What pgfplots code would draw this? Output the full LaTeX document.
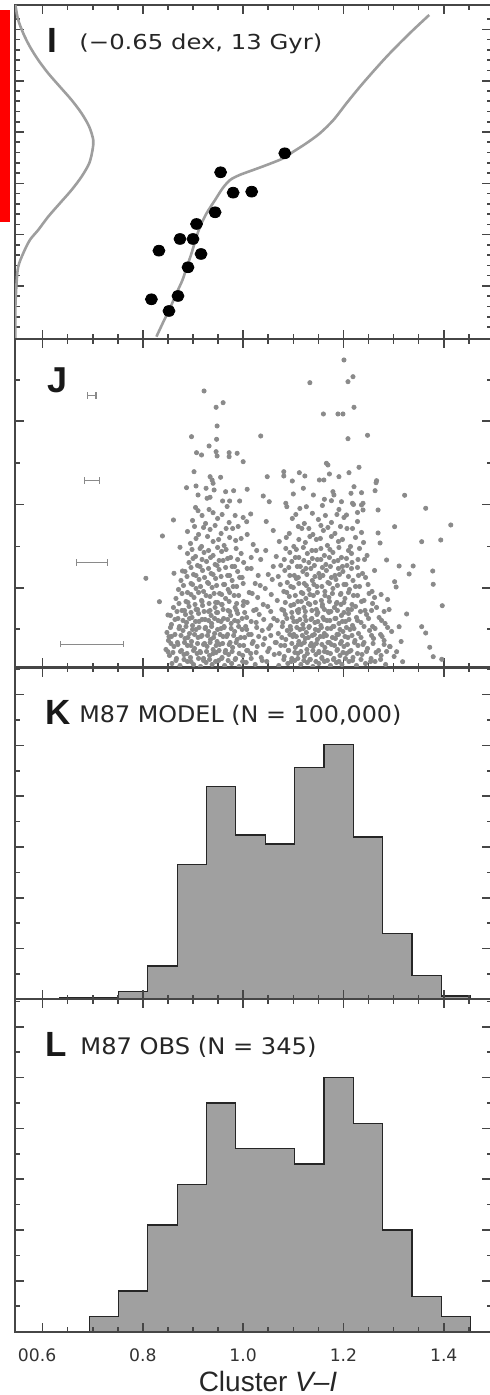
\documentclass[border=0pt]{standalone}
\usepackage{fontspec}
\setmainfont{DejaVu Sans}
\newfontfamily\libsans{Liberation Sans}
\usepackage{graphicx}
\usepackage{pgfplots}
\pgfplotsset{compat=1.18}
\definecolor{curvegray}{RGB}{158,158,158}
\definecolor{histgray}{RGB}{160,160,160}
\definecolor{dotgray}{RGB}{138,138,138}
\definecolor{axisgray}{RGB}{70,70,70}
\pgfplotsset{panel/.style={x=250.737pt, xmin=0.545, xmax=1.495,
  anchor=south west, axis line style={axisgray, line width=1pt}, tick align=inside, tick pos=both,
  xtick={0.6,0.8,1.0,1.2,1.4},
  minor xtick={0.65,0.7,0.75,0.85,0.9,0.95,1.05,1.1,1.15,1.25,1.3,1.35,1.45},
  xticklabels={}, yticklabels={}, major tick length=4.5pt, minor tick length=2.3pt,
  every tick/.style={axisgray, line width=0.8pt}}}
\begin{document}
\begin{tikzpicture}
\useasboundingbox (0,0) rectangle (245pt,697.5pt);
\fill[red] (0,586.5pt) rectangle (5pt,692.5pt);

% ---------- Panel I ----------
\begin{axis}[panel, at={(7.5pt,528pt)}, y=0.5pt, ymin=0, ymax=334,
  ytick={53,104.3,155.6,206.9,258.2,309.5},
  minor ytick={12,22.2,32.5,42.7,63.3,73.5,83.8,94.1,114.6,124.8,135.1,145.4,165.9,176.1,186.4,196.7,217.2,227.4,237.7,248,268.5,278.7,289,299.3,319.8}]
\addplot[curvegray, line width=1.3pt, smooth] coordinates {
(0.827,2.3)(0.841,17.3)(0.854,30.7)(0.867,45.7)(0.879,59)(0.888,72.3)(0.897,85.7)(0.905,99)
(0.914,112.3)(0.927,125.7)(0.944,139)(0.959,150.7)(0.974,159)(0.993,164)(1.020,169)(1.047,174)
(1.080,180.7)(1.100,187.3)(1.126,195.7)(1.153,205.7)(1.180,219)(1.206,235.7)(1.233,252.3)
(1.259,267.3)(1.286,282.3)(1.312,295.7)(1.339,309)(1.371,324)};
\addplot[curvegray, line width=1.3pt, smooth] coordinates {
(0.5455,334)(0.5468,330.7)(0.5514,319)(0.5614,305.7)(0.5747,292.3)(0.5913,279)(0.6112,265.7)
(0.6345,252.3)(0.6578,239)(0.6777,225.7)(0.6930,212.3)(0.7010,199)(0.6996,189)(0.6930,175.7)
(0.6777,162.3)(0.6578,149)(0.6345,135.7)(0.6112,122.3)(0.5913,109)(0.5747,99)(0.5614,85.7)
(0.5514,72.3)(0.5481,55.7)(0.5458,32.3)(0.5455,5.7)(0.5455,0)};
\addplot[only marks, color=black, mark=*, mark size=3pt, mark options={yscale=0.9}] coordinates {
(1.083,185.7)(0.955,166.7)(0.980,146.3)(1.017,147.3)(0.944,126.7)(0.907,115)(0.874,100)
(0.900,100)(0.832,88.3)(0.916,85)(0.890,71.7)(0.817,39.7)(0.870,43)(0.852,28)};
\end{axis}

% ---------- Panel J ----------
\begin{axis}[panel, at={(7.5pt,363.75pt)}, y=0.5pt, ymin=0, ymax=328.5,
  ytick={79.2,162.9,246.6}, minor ytick={38.2,120.8,204.5,287.5}]
\addplot[draw=none, mark=none, forget plot, error bars/.cd, x dir=both, x explicit,
  error bar style={draw=dotgray, solid, line width=0.6pt},
  error mark options={rotate=90, mark size=1.6pt, draw=dotgray, solid, line width=0.6pt}]
  coordinates {(0.6983,271.8) +- (0.0083,0) (0.6983,186.8) +- (0.015,0)
               (0.6983,104.8) +- (0.0306,0) (0.6983,23.2) +- (0.0625,0)};
\addplot[only marks, color=dotgray, mark=*, mark size=1.05pt] coordinates {
(1.201,307.5)(1.133,284.8)(1.209,285.8)(1.219,290.8)(0.922,276.5)(0.946,260.2)(0.960,264.8)
(1.160,253.5)(1.189,253.5)(1.199,253.5)(1.221,260.2)(0.948,241.5)(0.897,230.8)(0.947,228.2)
(1.035,231.5)(1.209,228.8)(1.248,232.2)(0.932,221.5)
(0.907,214.8)(0.917,212.5)(0.946,215.8)(0.948,211.5)(0.972,214.8)(0.972,210.8)(0.988,214.2)(1.000,205.8)
(1.166,204.2)(1.169,202.5)(1.231,200.2)
(0.902,195.8)(0.934,190.8)(0.938,187.5)(0.940,184.2)(0.955,190.2)
(1.048,190.8)(1.081,195.8)(1.081,191.5)(1.098,186.5)(1.112,194.8)(1.123,191.5)
(1.152,187.5)(1.161,187.5)(1.172,193.5)(1.191,190.8)(1.211,194.8)(1.266,186.8)(1.265,184.8)
(0.887,179.8)(0.906,181.5)(0.926,179.2)(0.942,177.5)(0.965,175.8)(0.981,176.8)(1.008,178.2)
(1.120,179.2)(1.221,180.8)(1.179,175.8)(1.181,172.5)(1.215,174.2)(1.236,174.8)(1.263,176.8)(1.322,172.2)
(0.910,172.5)(0.928,169.2)(0.934,170.2)(0.959,166.5)(0.973,166.5)(0.993,166.5)(1.040,171.5)(1.052,165.8)
(1.140,172.5)(1.162,168.2)(1.176,166.8)(1.196,165.8)(1.218,164.2)(1.239,164.2)
(1.085,164.2)(1.100,173.5)(1.236,162.5)(1.239,157.5)(1.269,157.5)(1.206,152.5)(1.138,154.2)
(1.126,160.8)(1.087,160.8)(0.861,147.5)(0.910,156.8)(0.940,154.8)(1.015,153.5)(1.007,145.8)
(0.839,131.5)(0.874,120.2)
(0.806,89.2)(0.833,65.8)(0.862,94.2)(0.879,96.5)(0.850,52.5)(0.852,30.8)(0.850,15.8)
(1.414,142.5)(1.302,140.8)(1.364,159.2)(1.356,125.8)(1.394,127.5)(1.273,124.5)(1.269,134.5)
(1.286,107.5)(1.311,101.5)(1.339,101.5)(1.331,93.5)(1.378,96.5)(1.379,83.2)(1.302,85.8)
(1.305,80.5)(1.397,61.8)(1.326,53.5)(1.311,40.8)(1.356,40.8)(1.364,34.5)(1.372,20.2)
(1.379,10.8)(1.396,8.2)(1.293,20.8)(1.306,15.8)(1.318,5.8)
(0.858,4)(0.874,2)(0.889,6)(0.901,3)(0.915,1)(0.926,5)(0.938,3)(0.951,7)(0.963,2)(0.977,4)
(0.992,1)(1.006,5)(1.024,3)(1.047,6)(1.071,2)(1.089,4)(1.103,7)(1.115,3)(1.128,5)(1.139,1)
(1.151,4)(1.162,6)(1.174,2)(1.186,5)(1.197,3)(1.211,6)(1.226,2)(1.244,4)(1.263,6)(1.284,3)
(0.853,12)(0.867,9)(0.882,13)(0.895,10)(0.908,14)(0.921,9)(0.933,12)(0.946,15)(0.958,10)
(0.971,13)(0.985,9)(0.999,12)(1.015,14)(1.036,10)(1.062,13)(1.082,11)(1.097,9)(1.109,14)
(1.122,11)(1.133,8)(1.145,13)(1.157,10)(1.168,15)(1.181,9)(1.193,12)(1.206,14)(1.219,10)
(1.237,13)(1.255,9)(1.275,12)(1.301,11)
(0.846,18)(0.862,21)(0.877,17)(0.889,22)(0.903,19)(0.914,16)(0.928,21)(0.940,18)(0.953,23)
(0.965,17)(0.979,20)(0.993,22)(1.009,17)(1.028,21)(1.052,19)(1.075,22)(1.091,17)(1.104,20)
(1.116,23)(1.127,18)(1.140,21)(1.151,16)(1.163,20)(1.176,23)(1.188,18)(1.201,21)(1.215,17)
(1.229,22)(1.248,19)(1.270,17)(1.292,21)
(0.851,27)(0.869,25)(0.884,29)(0.897,26)(0.910,30)(0.923,24)(0.935,28)(0.948,26)(0.960,31)
(0.974,25)(0.988,28)(1.003,30)(1.020,26)(1.043,29)(1.066,25)(1.085,28)(1.099,31)(1.111,26)
(1.124,29)(1.136,24)(1.148,28)(1.160,31)(1.172,25)(1.184,29)(1.196,26)(1.209,30)(1.223,27)
(1.241,25)(1.260,29)(1.281,27)(1.315,26)
(0.848,35)(0.864,33)(0.880,37)(0.893,34)(0.906,38)(0.918,32)(0.931,36)(0.943,34)(0.956,39)
(0.969,33)(0.983,36)(0.998,38)(1.016,33)(1.038,37)(1.070,34)(1.088,37)(1.101,33)(1.113,38)
(1.126,35)(1.138,32)(1.150,37)(1.162,34)(1.175,39)(1.187,33)(1.199,36)(1.213,38)(1.230,34)
(1.252,37)(1.274,33)(1.296,36)
(0.857,43)(0.873,41)(0.887,45)(0.899,42)(0.912,46)(0.925,40)(0.937,44)(0.950,47)(0.962,41)
(0.976,44)(0.990,46)(1.005,41)(1.026,45)(1.055,42)(1.079,45)(1.094,41)(1.107,46)(1.119,43)
(1.131,40)(1.143,45)(1.155,42)(1.167,47)(1.179,41)(1.191,44)(1.204,46)(1.218,42)(1.235,45)
(1.258,41)(1.283,44)
(0.855,52)(0.870,49)(0.885,53)(0.898,50)(0.911,54)(0.924,48)(0.936,52)(0.949,55)(0.961,49)
(0.975,52)(0.989,54)(1.007,50)(1.032,53)(1.061,49)(1.084,53)(1.098,50)(1.110,55)(1.123,51)
(1.135,48)(1.147,53)(1.159,50)(1.171,55)(1.183,49)(1.196,52)(1.210,54)(1.226,50)(1.246,53)
(1.271,50)
(0.861,60)(0.878,57)(0.892,61)(0.906,58)(0.919,62)(0.931,56)(0.944,60)(0.957,63)(0.970,57)
(0.984,60)(1.000,62)(1.021,57)(1.049,61)(1.077,58)(1.095,62)(1.108,57)(1.121,60)(1.133,63)
(1.146,58)(1.158,61)(1.170,56)(1.182,60)(1.195,63)(1.209,58)(1.224,61)(1.243,57)(1.266,60)
(1.291,58)
(0.866,69)(0.886,66)(0.902,70)(0.917,67)(0.934,71)(0.949,65)(0.965,69)(0.982,72)(1.001,66)
(1.029,70)(1.068,67)(1.092,71)(1.109,66)(1.125,69)(1.140,72)(1.156,67)(1.171,70)(1.187,65)
(1.203,69)(1.220,72)(1.241,67)(1.262,70)(1.288,68)
(0.871,78)(0.889,75)(0.906,79)(0.921,76)(0.938,80)(0.953,74)(0.970,78)(0.987,81)(1.012,75)
(1.044,79)(1.081,76)(1.100,80)(1.116,75)(1.131,78)(1.147,81)(1.163,76)(1.179,79)(1.195,74)
(1.212,78)(1.232,81)(1.257,76)
(0.876,87)(0.896,84)(0.912,88)(0.929,85)(0.945,89)(0.961,83)(0.978,87)(0.998,90)(1.024,84)
(1.058,88)(1.088,85)(1.106,89)(1.122,84)(1.138,87)(1.153,90)(1.169,85)(1.185,88)(1.201,83)
(1.219,87)(1.244,90)
(0.884,96)(0.901,93)(0.919,97)(0.936,94)(0.952,98)(0.969,92)(0.989,96)(1.016,99)(1.050,93)
(1.083,97)(1.102,92)(1.119,96)(1.135,99)(1.151,94)(1.166,97)(1.183,92)(1.199,96)(1.216,99)
(1.238,94)(1.262,97)
(0.892,105)(0.909,102)(0.927,106)(0.944,103)(0.960,107)(0.978,101)(1.001,105)(1.035,108)
(1.075,102)(1.097,106)(1.114,101)(1.131,105)(1.148,108)(1.165,103)(1.181,106)(1.198,101)
(1.217,105)(1.242,108)
(0.889,114)(0.905,111)(0.922,115)(0.940,112)(0.957,116)(0.975,110)(0.996,114)(1.027,117)
(1.066,111)(1.093,115)(1.111,110)(1.128,114)(1.145,117)(1.162,112)(1.179,115)(1.196,110)
(1.216,114)(1.247,112)
(0.895,124)(0.917,121)(0.940,126)(0.962,122)(0.985,127)(1.020,123)(1.072,126)(1.101,121)
(1.124,125)(1.146,128)(1.168,122)(1.190,126)(1.214,121)(1.240,125)
(0.889,136)(0.911,133)(0.934,138)(0.956,134)(0.979,139)(1.008,133)(1.060,137)(1.092,134)
(1.117,139)(1.139,133)(1.160,137)(1.183,134)(1.207,139)(1.236,135)
(0.899,147)(0.925,144)(0.949,149)(0.972,145)(1.000,150)(1.046,146)(1.098,149)(1.122,144)
(1.150,148)(1.176,145)(1.201,150)(1.228,146)
(0.905,160)(0.932,158)(0.968,161)(1.113,159)(1.158,162)(1.191,158)(1.220,163)
(0.866,7)(0.882,8)(0.896,6)(0.911,9)(0.921,7)(0.933,8)(0.945,6)(0.957,9)(0.970,7)(0.984,8)
(0.999,6)(1.016,9)(1.038,7)(1.081,8)(1.096,6)(1.109,9)(1.121,7)(1.134,8)(1.145,6)(1.157,9)
(1.168,7)(1.180,8)(1.191,6)(1.204,9)(1.218,7)(1.235,8)(1.254,6)(1.274,8)
(0.860,15)(0.875,16)(0.888,14)(0.901,17)(0.915,15)(0.927,16)(0.940,14)(0.952,17)(0.964,15)
(0.978,16)(0.992,14)(1.007,17)(1.026,15)(1.049,16)(1.072,14)(1.090,17)(1.103,15)(1.115,16)
(1.128,14)(1.139,17)(1.151,15)(1.162,16)(1.174,14)(1.187,17)(1.199,15)(1.212,16)(1.228,14)
(1.246,16)(1.265,15)(1.286,16)
(0.856,24)(0.870,23)(0.883,25)(0.896,22)(0.909,24)(0.921,23)(0.934,25)(0.946,22)(0.959,24)
(0.972,23)(0.986,25)(1.001,22)(1.018,24)(1.040,23)(1.064,25)(1.083,22)(1.097,24)(1.110,23)
(1.122,25)(1.134,22)(1.146,24)(1.157,23)(1.169,25)(1.182,22)(1.194,24)(1.208,23)(1.222,25)
(1.239,23)(1.259,24)(1.281,23)
(0.857,31)(0.876,32)(0.890,30)(0.903,33)(0.916,31)(0.929,32)(0.941,30)(0.954,33)(0.967,31)
(0.981,32)(0.995,30)(1.011,33)(1.031,31)(1.055,32)(1.077,30)(1.093,33)(1.106,31)(1.118,32)
(1.130,30)(1.142,33)(1.154,31)(1.166,32)(1.178,30)(1.190,33)(1.203,31)(1.217,32)(1.235,30)
(1.256,32)(1.277,31)
(0.855,40)(0.872,39)(0.886,41)(0.899,38)(0.912,40)(0.924,39)(0.937,41)(0.949,38)(0.962,40)
(0.976,39)(0.991,41)(1.007,38)(1.027,40)(1.051,39)(1.078,41)(1.095,38)(1.107,40)(1.120,39)
(1.132,41)(1.144,38)(1.156,40)(1.168,39)(1.181,41)(1.193,38)(1.206,40)(1.221,39)(1.241,41)
(1.263,39)(1.288,40)
(0.864,48)(0.880,47)(0.893,49)(0.905,46)(0.918,48)(0.931,47)(0.943,49)(0.956,46)(0.969,48)
(0.983,47)(0.998,49)(1.016,46)(1.041,48)(1.068,47)(1.087,49)(1.101,46)(1.113,48)(1.125,47)
(1.137,49)(1.149,46)(1.161,48)(1.173,47)(1.185,49)(1.198,46)(1.211,48)(1.228,47)(1.250,49)
(1.276,47)
(0.868,56)(0.883,57)(0.896,55)(0.909,58)(0.922,56)(0.934,57)(0.947,55)(0.960,58)(0.973,56)
(0.987,57)(1.003,55)(1.026,58)(1.055,56)(1.081,57)(1.097,55)(1.111,58)(1.124,56)(1.137,57)
(1.149,55)(1.162,58)(1.175,56)(1.188,57)(1.201,55)(1.216,58)(1.234,56)(1.256,57)(1.281,56)
(0.872,64)(0.890,65)(0.904,63)(0.918,66)(0.932,64)(0.945,65)(0.958,63)(0.972,66)(0.987,64)
(1.008,65)(1.040,63)(1.084,65)(1.101,63)(1.116,66)(1.130,64)(1.144,65)(1.158,63)(1.172,66)
(1.186,64)(1.201,65)(1.217,63)(1.236,66)(1.258,64)
(0.878,74)(0.896,73)(0.911,75)(0.926,72)(0.942,74)(0.957,73)(0.973,75)(0.991,72)(1.018,74)
(1.056,73)(1.087,75)(1.104,72)(1.119,74)(1.133,73)(1.148,75)(1.163,72)(1.178,74)(1.194,73)
(1.210,75)(1.228,72)(1.251,74)(1.275,73)
(0.881,82)(0.899,83)(0.915,81)(0.931,84)(0.947,82)(0.963,83)(0.980,81)(1.000,84)(1.034,82)
(1.074,83)(1.095,81)(1.111,84)(1.126,82)(1.141,83)(1.157,81)(1.172,84)(1.188,82)(1.205,83)
(1.224,81)(1.249,83)
(0.888,91)(0.906,92)(0.923,90)(0.940,93)(0.956,91)(0.973,92)(0.993,90)(1.030,92)(1.070,91)
(1.093,92)(1.110,90)(1.127,93)(1.143,91)(1.159,92)(1.176,90)(1.192,93)(1.210,91)(1.230,92)
(0.896,100)(0.914,101)(0.931,99)(0.948,102)(0.965,100)(0.983,101)(1.008,99)(1.060,101)
(1.091,100)(1.108,101)(1.125,99)(1.142,102)(1.158,100)(1.174,101)(1.190,99)(1.207,102)(1.228,100)
(0.900,109)(0.918,108)(0.935,110)(0.952,107)(0.969,109)(0.989,108)(1.016,110)(1.082,108)
(1.104,110)(1.121,107)(1.138,109)(1.155,108)(1.172,110)(1.189,107)(1.206,109)(1.229,108)
(0.898,118)(0.914,119)(0.931,117)(0.949,120)(0.966,118)(0.986,119)(1.045,117)(1.085,119)
(1.106,118)(1.120,120)(1.137,117)(1.155,119)(1.173,118)(1.191,120)(1.210,117)(1.232,119)
(0.906,129)(0.929,131)(0.951,128)(0.973,130)(0.996,129)(1.086,130)(1.111,128)(1.133,131)
(1.154,129)(1.176,131)(1.198,128)(1.224,130)
(0.903,141)(0.921,140)(0.944,142)(0.966,139)(0.990,141)(1.110,141)(1.131,139)(1.155,142)
(1.169,140)(1.194,141)(1.218,139)
(0.918,152)(0.958,153)(0.984,152)(1.105,153)(1.164,152)(1.187,153)(1.228,155)};
\end{axis}

% ---------- Panel K ----------
\begin{axis}[panel, at={(7.5pt,197.75pt)}, y=2.54pt, ymin=0, ymax=65.35, axis on top,
  ytick={0,10,...,60}, minor ytick={5,15,...,65}]
\addplot[const plot, fill=histgray, draw=black!85, line width=0.6pt] coordinates {
(0.6345,0.3)(0.693,0.3)(0.7515,1.6)(0.810,6.6)(0.8685,26.6)(0.927,42.0)(0.9855,32.4)
(1.044,30.6)(1.1025,45.6)(1.161,50.2)(1.2195,32.0)(1.278,13.0)(1.3365,4.8)(1.395,0.7)(1.4535,0.7)}
\closedcycle;
\end{axis}

% ---------- Panel L ----------
\begin{axis}[panel, at={(7.5pt,31.65pt)}, y=2.54pt, ymin=0, ymax=65.4, axis on top,
  ytick={0,10,...,60}, minor ytick={5,15,...,65},
  xticklabels={\llap{0}0.6,0.8,1.0,1.2,1.4},
  xticklabel style={font=\fontsize{8.6}{9}\selectfont, text=black!80, anchor=base, yshift=-15pt}]
\addplot[const plot, fill=histgray, draw=black!85, line width=0.6pt] coordinates {
(0.693,3)(0.7515,8)(0.810,21)(0.8685,29)(0.927,45)(0.9855,36)(1.044,36)(1.1025,33)
(1.161,50)(1.2195,41)(1.278,20)(1.3365,7)(1.395,3)(1.4535,3)}
\closedcycle;
\end{axis}

% ---------- Labels ----------
\node[anchor=base west, inner sep=0, text=black!90, font=\libsans\bfseries\fontsize{17.5}{18}\selectfont] at (23.5pt,671pt) {I};
\node[anchor=base west, inner sep=0, text=black!85] at (39.5pt,672.5pt) {\scalebox{1.18}[1]{\fontsize{10.3}{12}\selectfont (−0.65 dex, 13 Gyr)}};
\node[anchor=base west, inner sep=0, text=black!90, font=\libsans\bfseries\fontsize{18}{19}\selectfont] at (23.5pt,501pt) {J};
\node[anchor=base west, inner sep=0, text=black!90, font=\libsans\bfseries\fontsize{17.5}{18}\selectfont] at (22.7pt,335pt) {K};
\node[anchor=base west, inner sep=0, text=black!85] at (39.5pt,336pt) {\scalebox{1.045}[1]{\fontsize{11.4}{13}\selectfont M87 MODEL (N = 100,000)}};
\node[anchor=base west, inner sep=0, text=black!90, font=\libsans\bfseries\fontsize{17.5}{18}\selectfont] at (22.7pt,169pt) {L};
\node[anchor=base west, inner sep=0, text=black!85] at (40pt,170pt) {\scalebox{1.06}[1]{\fontsize{11.4}{13}\selectfont M87 OBS (N = 345)}};
\node[anchor=base, inner sep=0, text=black!85, font=\libsans\fontsize{14}{16}\selectfont] at (134pt,1.65pt) {Cluster \textit{V–I}};
\end{tikzpicture}
\end{document}
